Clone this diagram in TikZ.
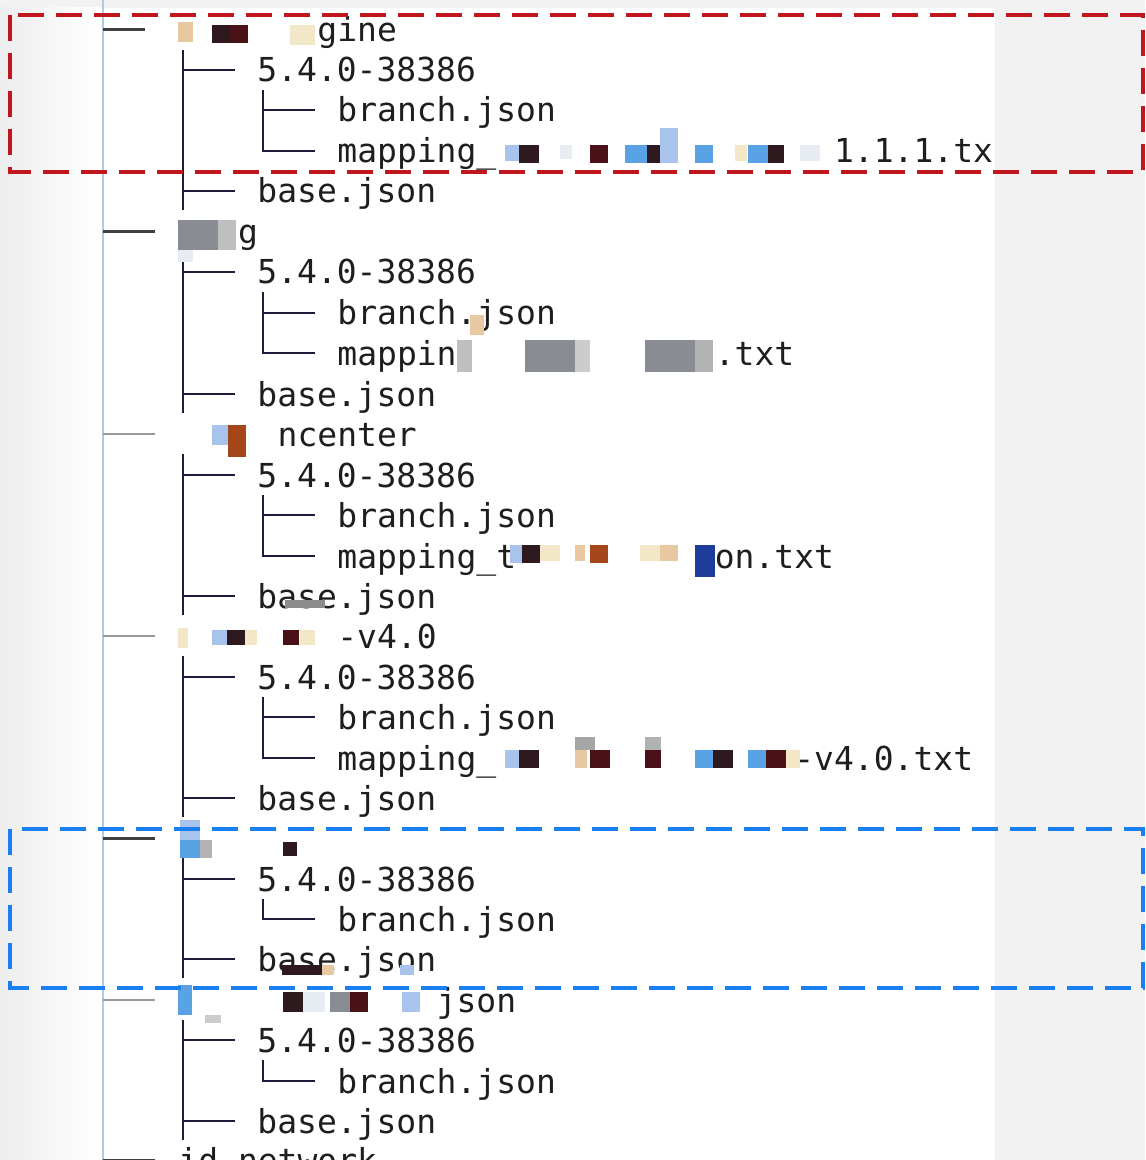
\documentclass[tikz,border=0pt]{standalone}
\usepackage{fontspec}
\setmonofont{DejaVu Sans Mono}
\usepackage{tikz}
\usetikzlibrary{calc}
\definecolor{boxred}{HTML}{C0161E}
\definecolor{boxblue}{HTML}{1A7FF0}
\definecolor{treeline}{HTML}{1C1C3A}
\definecolor{rootblue}{HTML}{A9CDE6}
\definecolor{txt}{HTML}{1E1E1E}
\definecolor{blkdark}{HTML}{2E1A1E}
\definecolor{blkmaroon}{HTML}{4A1216}
\definecolor{blkblue}{HTML}{5AA2E6}
\definecolor{blkpale}{HTML}{A8C4EC}
\definecolor{blktan}{HTML}{E8C8A0}
\definecolor{blkcream}{HTML}{F2E8C8}
\definecolor{blkgray}{HTML}{8A8C94}
\definecolor{blkbrown}{HTML}{A4461A}
\definecolor{blkdeep}{HTML}{1E3C9C}
\definecolor{blkmist}{HTML}{E6ECF2}
\newcommand{\gap}[1]{\hspace*{#1\dimexpr0.602em\relax}}
\tikzset{
	entry/.style={anchor=west, inner sep=0pt, text height=12pt, text depth=0pt,
		font=\ttfamily\fontsize{16.5}{18}\selectfont, text=txt},
	branch/.style={draw=treeline, line width=1.3pt},
	stem/.style={draw=black!75, line width=1.5pt},
	faint/.style={draw=black!40, line width=0.8pt},
	hidebox/.style={dash pattern=on 13pt off 6pt, line width=1.6pt},
}

\begin{document}
\begin{tikzpicture}[x=0.5pt, y=-0.5pt]
			\useasboundingbox (0,0) rectangle (1145,1160);
			\clip (0,0) rectangle (1145,1160);
			\fill[black!5] (0,0) rectangle (1145,1160);
			\shade[left color=black!7, right color=white] (0,8) rectangle (100,1160);
			\fill[white] (100,8) rectangle (995,1160);
			\coordinate (root) at (103,0);
			\coordinate (rootend) at (103,1160);
			\draw[rootblue, line width=1pt] (root) -- (rootend);
			%
			\node[entry] (g1)	at	(178, 30)	{\gap{7}gine};
			\node[entry] (v1)	at	(257, 70)	{5.4.0-38386};
			\node[entry] (b1)	at	(337, 110)	{branch.json};
			\node[entry] (m1)	at	(337, 151)	{mapping\_\gap{17}1.1.1.tx};
			\node[entry] (s1)	at	(257, 191)	{base.json};
			%
			\node[entry] (g2)	at	(178, 232)	{\gap{3}g};
			\node[entry] (v2)	at	(257, 272)	{5.4.0-38386};
			\node[entry] (b2)	at	(337, 313)	{branch.json};
			\node[entry] (m2)	at	(337, 353)	{mappin\gap{13}.txt};
			\node[entry] (s2)	at	(257, 394)	{base.json};
			%
			\node[entry] (g3)	at	(178, 434)	{\gap{5}ncenter};
			\node[entry] (v3)	at	(257, 475)	{5.4.0-38386};
			\node[entry] (b3)	at	(337, 515)	{branch.json};
			\node[entry] (m3)	at	(337, 556)	{mapping\_t\gap{10}on.txt};
			\node[entry] (s3)	at	(257, 596)	{base.json};
			%
			\node[entry] (g4)	at	(178, 636)	{\gap{8}-v4.0};
			\node[entry] (v4)	at	(257, 677)	{5.4.0-38386};
			\node[entry] (b4)	at	(337, 717)	{branch.json};
			\node[entry] (m4)	at	(337, 758)	{mapping\_\gap{15}-v4.0.txt};
			\node[entry] (s4)	at	(257, 798)	{base.json};
			%
			\node[entry] (g5)	at	(178, 838)	{\gap{6}};
			\node[entry] (v5)	at	(257, 879)	{5.4.0-38386};
			\node[entry] (b5)	at	(337, 919)	{branch.json};
			\node[entry] (s5)	at	(257, 959)	{base.json};
			%
			\node[entry] (g6)	at	(178, 1000)	{\gap{13}json};
			\node[entry] (v6)	at	(257, 1040)	{5.4.0-38386};
			\node[entry] (b6)	at	(337, 1081)	{branch.json};
			\node[entry] (s6)	at	(257, 1121)	{base.json};
			%
			\node[entry] (g7)	at	(178, 1160)	{id\_network};
			%
			\foreach \g/\l/\s in {g1/33/stem, g2/23/stem, g3/23/faint, g4/23/faint, g5/23/stem, g6/23/faint, g7/23/stem}
				\draw[\s] (root |- \g.west) -- ($(\g.west)+(-\l,0)$);
			\foreach \g/\v/\e in {g1/v1/s1, g2/v2/s2, g3/v3/s3, g4/v4/s4, g5/v5/s5, g6/v6/s6} {
				\draw[branch] ($(\g.west)+(5,20)$) -- ($(\g.west |- \e.west)+(5,19)$);
				\draw[branch] ($(\g.west |- \v.west)+(5,0)$) -- ($(\v.west)+(-22,0)$);
				\draw[branch] ($(\g.west |- \e.west)+(5,0)$) -- ($(\e.west)+(-22,0)$);
			}
			\foreach \v/\b/\e in {v1/b1/m1, v2/b2/m2, v3/b3/m3, v4/b4/m4, v5/b5/b5, v6/b6/b6} {
				\draw[branch] ($(\v.west)+(6,20)$) |- ($(\e.west)+(-22,0)$);
				\draw[branch] ($(\v.west |- \b.west)+(6,0)$) -- ($(\b.west)+(-22,0)$);
			}
			%
			\foreach \x/\y/\w/\h/\c in {
				178/22/15/20/blktan, 212/25/18/18/blkdark, 230/25/18/18/blkmaroon, 290/25/25/20/blkcream,
				505/145/14/16/blkpale, 519/145/20/18/blkdark, 560/145/12/14/blkmist, 590/145/18/18/blkmaroon,
				625/145/22/18/blkblue, 647/145/14/18/blkdark, 660/128/18/35/blkpale, 695/145/18/18/blkblue,
				735/145/12/16/blkcream, 748/145/20/18/blkblue, 768/145/16/18/blkdark, 800/145/20/16/blkmist,
				178/220/40/30/blkgray, 218/220/18/30/black!25, 178/250/15/12/blkmist,
				470/315/14/20/blktan, 457/340/15/32/black!25, 525/340/50/32/blkgray, 575/340/15/32/black!20,
				645/340/50/32/blkgray, 695/340/18/32/black!30,
				212/425/16/20/blkpale, 228/425/18/32/blkbrown,
				510/545/12/18/blkpale, 522/545/18/18/blkdark, 540/545/20/16/blkcream, 575/545/10/16/blktan,
				590/545/18/18/blkbrown, 640/545/20/16/blkcream, 660/545/18/16/blktan, 695/545/20/32/blkdeep,
				285/600/40/8/black!45,
				178/628/10/20/blkcream, 212/630/15/15/blkpale, 227/630/18/15/blkdark, 245/630/12/15/blkcream,
				283/630/16/15/blkmaroon, 300/630/15/15/blkcream,
				505/750/14/18/blkpale, 519/750/20/18/blkdark, 575/737/20/13/black!35, 575/750/12/18/blktan,
				590/750/20/18/blkmaroon, 645/737/16/13/black!30, 645/750/16/18/blkmaroon, 695/750/18/18/blkblue,
				713/750/20/18/blkdark, 748/750/18/18/blkblue, 766/750/20/18/blkmaroon, 786/750/14/18/blkcream,
				180/820/20/20/blkpale, 180/840/20/18/blkblue, 200/840/12/18/black!30, 283/842/14/14/blkdark,
				282/965/40/10/blkdark, 322/965/12/10/blktan, 400/965/14/10/blkpale,
				178/985/14/30/blkblue, 205/1015/16/8/black!20, 283/992/20/20/blkdark, 303/992/22/20/blkmist,
				330/992/20/20/blkgray, 350/992/18/20/blkmaroon, 402/992/18/20/blkpale}
				\fill[\c] (\x,\y) rectangle +(\w,\h);
			%
			\draw[hidebox, boxred] (10,15) rectangle (1143,172);
			\draw[hidebox, boxblue] (10,829) rectangle (1143,988);
		\end{tikzpicture}
\end{document}
